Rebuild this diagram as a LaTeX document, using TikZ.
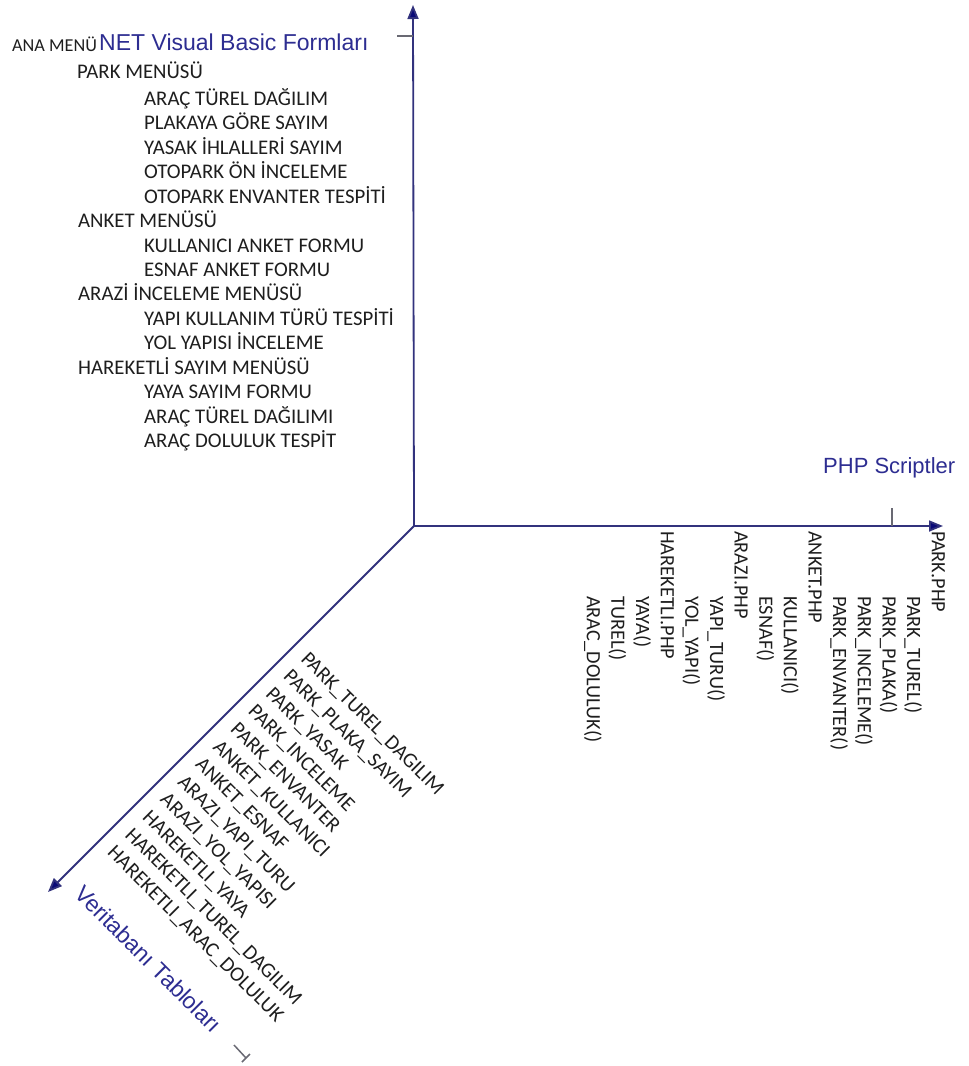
\documentclass[tikz,border=0pt]{standalone}
\usepackage{fontspec}
\setmainfont{Carlito}
\newfontfamily\arialf{Liberation Sans}
\usetikzlibrary{arrows.meta}
\definecolor{axisblue}{RGB}{50,50,125}
\definecolor{tipblue}{RGB}{10,10,120}
\definecolor{labelblue}{RGB}{45,45,145}
\definecolor{tickgray}{RGB}{105,105,115}
\definecolor{txt}{RGB}{30,30,30}
\tikzset{
  axisline/.style={draw=axisblue,line width=1.8pt,-{Triangle[length=14pt,width=11pt,fill=tipblue]}},
  tickline/.style={draw=tickgray,line width=1.5pt},
  item/.style={inner sep=0pt,anchor=base west,text=txt,font=\fontsize{20.8}{24}\selectfont},
  axlabel/.style={inner sep=0pt,anchor=base west,text=labelblue,font=\arialf\fontsize{23}{26}\selectfont},
}
\begin{document}
\begin{tikzpicture}[x=1pt,y=-1pt]
\useasboundingbox (0,0) rectangle (969,1066);
% axes
\coordinate (O) at (414,526);
\coordinate (UpTip) at (413,5);
\coordinate (RightTip) at (943,526);
\coordinate (DiagTip) at (48,892);
\draw[axisline] (O) -- (UpTip);
\draw[axisline] (O) -- (RightTip);
\draw[axisline] (O) -- (DiagTip);
% ticks
\coordinate (t1a) at (413,36); \coordinate (t1b) at (397,36);
\draw[tickline] (t1a) -- (t1b);
\coordinate (t2a) at (892,526); \coordinate (t2b) at (892,508);
\draw[tickline] (t2a) -- (t2b);
\coordinate (t3a) at (234,1045); \coordinate (t3b) at (246,1058);
\coordinate (t3c) at (242,1062); \coordinate (t3d) at (250,1054);
\draw[tickline] (t3a) -- (t3b);
\draw[tickline] (t3c) -- (t3d);
% axis labels
\node[axlabel] (lnet) at (99,50.5) {NET Visual Basic Formları};
\node[axlabel,font=\arialf\fontsize{22}{26}\selectfont] (lphp) at (823,473) {PHP Scriptler};
\node[axlabel,rotate=-45] (lvt) at (73,895) {Veritabanı Tabloları};
% top-left list
\node[item,font=\fontsize{18.2}{22}\selectfont] (m0) at (12,51) {ANA MENÜ};
\node[item] (m1) at (77,78) {PARK MENÜSÜ};
\foreach \t/\x [count=\k from 0] in {
  ARAÇ TÜREL DAĞILIM/144,
  PLAKAYA GÖRE SAYIM/144,
  YASAK İHLALLERİ SAYIM/144,
  OTOPARK ÖN İNCELEME/144,
  OTOPARK ENVANTER TESPİTİ/144,
  ANKET MENÜSÜ/78,
  KULLANICI ANKET FORMU/144,
  ESNAF ANKET FORMU/144,
  ARAZİ İNCELEME MENÜSÜ/78,
  YAPI KULLANIM TÜRÜ TESPİTİ/144,
  YOL YAPISI İNCELEME/144,
  HAREKETLİ SAYIM MENÜSÜ/78,
  YAYA SAYIM FORMU/144,
  ARAÇ TÜREL DAĞILIMI/144,
  ARAÇ DOLULUK TESPİT/144}
  \node[item] (f\k) at (\x,105.5+24.43*\k) {\t};
% right axis list
\foreach \t/\y [count=\k from 0] in {
  PARK.PHP/531,
  PARK\_TUREL()/596,
  PARK\_PLAKA()/596,
  PARK\_INCELEME()/596,
  PARK\_ENVANTER()/596,
  ANKET.PHP/531,
  KULLANICI()/596,
  ESNAF()/596,
  ARAZI.PHP/531,
  YAPI\_TURU()/596,
  YOL\_YAPI()/596,
  HAREKETLI.PHP/531,
  YAYA()/596,
  TUREL()/596,
  ARAC\_DOLULUK()/596}
  \node[item,font=\fontsize{20.3}{24}\selectfont,rotate=-90] (p\k) at (931.8-24.64*\k,\y) {\t};
% diagonal list
\foreach \t [count=\k from 0] in {
  PARK\_TUREL\_DAGILIM,
  PARK\_PLAKA\_SAYIM,
  PARK\_YASAK,
  PARK\_INCELEME,
  PARK\_ENVANTER,
  ANKET\_KULLANICI,
  ANKET\_ESNAF,
  ARAZI\_YAPI\_TURU,
  ARAZI\_YOL\_YAPISI,
  HAREKETLI\_YAYA,
  HAREKETLI\_TUREL\_DAGILIM,
  HAREKETLI\_ARAC\_DOLULUK}
  \node[item,rotate=-45] (d\k) at (300-17.6*\k,660+17.6*\k) {\t};
\end{tikzpicture}
\end{document}
